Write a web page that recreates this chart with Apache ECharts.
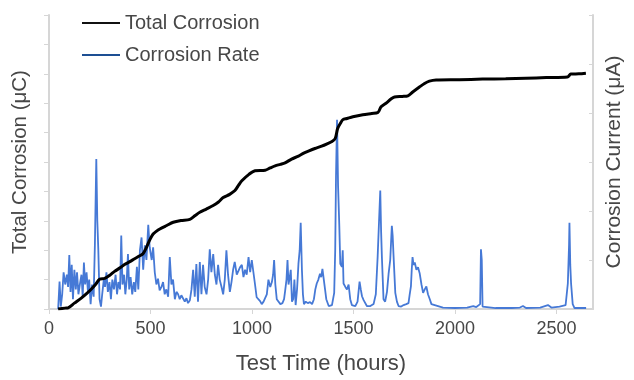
<!DOCTYPE html>
<html>
<head>
<meta charset="utf-8">
<script src="https://cdn.jsdelivr.net/npm/echarts@6/dist/echarts.min.js"></script>
<style>
  html, body { margin: 0; padding: 0; background: #fff; }
  #chart { width: 634px; height: 380px; }
</style>
</head>
<body>
<div id="chart"></div>
<script>
// x tick labels (hours)
const xTicks = [0, 500, 1000, 1500, 2000, 2500];

// total corrosion, left axis (arbitrary units, no labels shown) : [hours, value]
const totalCorrosion = [
  [45, 0], [79, 0.3], [94, 0.4], [125, 2], [159, 3.7], [185, 5.2], [208, 6.7], [230, 8.4],
  [249, 10.1], [274, 10.4], [300, 11.5], [323, 12.8], [350, 14], [372, 15.1], [398, 16.1],
  [422, 17.1], [445, 18], [463, 18.8], [481, 21.1], [497, 23.6], [513, 25.5], [530, 26.5],
  [546, 27.2], [580, 28.4], [612, 29.5], [650, 30.1], [694, 30.5], [720, 31.8], [743, 32.9],
  [775, 34], [809, 35.2], [835, 36.4], [858, 37.9], [890, 39], [916, 40.3], [935, 42.2],
  [950, 43.6], [985, 45.8], [1015, 47], [1065, 47.2], [1090, 48], [1114, 48.7], [1140, 49.2],
  [1163, 49.7], [1195, 51], [1229, 52], [1255, 53], [1278, 53.7], [1310, 54.6], [1343, 55.4],
  [1370, 56.2], [1394, 57], [1410, 58], [1422, 61.4], [1435, 63.1], [1448, 64.4], [1468, 64.8],
  [1497, 65.4], [1546, 66.1], [1590, 66.5], [1620, 66.8], [1636, 68.8], [1660, 70], [1686, 71.5],
  [1702, 72.1], [1740, 72.3], [1768, 72.5], [1792, 73.8], [1825, 75.5], [1850, 76.7], [1874, 77.5],
  [1907, 77.9], [2022, 78], [2136, 78.2], [2250, 78.3], [2349, 78.5], [2450, 78.7], [2554, 78.9],
  [2571, 79.9], [2610, 80], [2645, 80.2]
];

// corrosion rate, right axis (arbitrary units, no labels shown) : [hours, value]
const corrosionRate = [
  [45, 0], [52, 0.56], [58, 0.05], [65, 0.3], [72, 0.75], [80, 0.5], [88, 0.7], [94, 0.45],
  [100, 1.1], [106, 0.35], [112, 0.9], [118, 0.2], [125, 0.8], [132, 0.4], [138, 0.75], [145, 0.3],
  [152, 0.5], [160, 0.7], [166, 0.25], [172, 0.95], [178, 0.5], [185, 0.75], [192, 0.35], [198, 0.6],
  [205, 0.1], [212, 0.5], [220, 0.25], [226, 1.3], [233, 3.06], [238, 1.8], [243, 1.2], [249, 0.2],
  [256, 0.05], [262, 0.3], [270, 0.6], [276, 0.45], [283, 0.75], [290, 0.35], [298, 0.55], [305, 0.2],
  [312, 0.6], [320, 0.4], [328, 0.7], [335, 0.3], [342, 0.55], [350, 0.4], [356, 1.5], [362, 0.5],
  [370, 0.7], [376, 0.3], [383, 0.6], [389, 1.12], [395, 0.4], [402, 0.65], [410, 0.3], [418, 0.55],
  [425, 0.35], [433, 0.86], [440, 0.4], [448, 1.2], [456, 1.46], [464, 0.8], [472, 1.3], [480, 1.0],
  [489, 1.72], [496, 1.26], [506, 1.0], [513, 1.26], [521, 0.75], [529, 0.5], [537, 0.62], [545, 0.38],
  [554, 0.45], [562, 0.55], [570, 0.3], [578, 0.4], [587, 0.25], [595, 1.06], [603, 0.5], [611, 0.6],
  [620, 0.2], [628, 0.35], [636, 0.3], [644, 0.2], [652, 0.28], [661, 0.25], [669, 0.15], [677, 0.22],
  [685, 0.12], [694, 0.18], [702, 0.4], [710, 0.8], [718, 0.25], [726, 0.92], [734, 0.15], [743, 0.96],
  [751, 0.3], [759, 0.9], [767, 0.45], [776, 0.3], [784, 0.6], [792, 1.22], [800, 0.75], [809, 1.12],
  [817, 0.7], [825, 0.5], [833, 0.9], [841, 0.6], [850, 0.45], [858, 0.3], [866, 0.6], [874, 1.2],
  [882, 0.7], [891, 0.35], [899, 0.55], [907, 0.8], [915, 0.96], [925, 0.7], [933, 0.7], [941, 0.85],
  [950, 0.9], [958, 0.65], [966, 0.8], [974, 0.7], [983, 1.06], [991, 0.75], [999, 1.0], [1007, 0.75],
  [1015, 0.5], [1023, 0.24], [1032, 0.2], [1040, 0.16], [1048, 0.1], [1057, 0.15], [1065, 0.18],
  [1073, 0.3], [1081, 0.6], [1090, 0.45], [1098, 0.55], [1104, 0.7], [1109, 1.0], [1115, 0.5],
  [1122, 0.2], [1130, 0.18], [1140, 0.1], [1150, 0.12], [1158, 0.2], [1163, 0.36], [1170, 0.6],
  [1175, 1.0], [1180, 0.5], [1186, 0.65], [1191, 0.8], [1197, 0.15], [1203, 0.2], [1209, 0.6],
  [1215, 0.08], [1222, 0.4], [1229, 0.93], [1235, 1.2], [1240, 1.76], [1246, 0.8], [1251, 0.3],
  [1256, 0.1], [1265, 0.15], [1275, 0.12], [1286, 0.14], [1296, 0.1], [1305, 0.2], [1312, 0.4],
  [1319, 0.52], [1327, 0.6], [1335, 0.72], [1341, 0.65], [1347, 0.82], [1353, 0.86], [1360, 0.4],
  [1366, 0.2], [1378, 0.06], [1394, 0.08], [1405, 0.33], [1410, 1.2], [1414, 2.72], [1419, 3.86],
  [1424, 2.52], [1430, 1.72], [1435, 0.92], [1443, 0.86], [1447, 1.2], [1451, 0.52], [1460, 0.45],
  [1468, 0.4], [1476, 0.5], [1484, 0.2], [1492, 0.08], [1509, 0.06], [1520, 0.15], [1530, 0.56],
  [1536, 0.4], [1542, 0.26], [1550, 0.18], [1558, 0.22], [1566, 0.06], [1583, 0.06], [1599, 0.1],
  [1610, 0.3], [1619, 1.06], [1626, 1.8], [1632, 2.42], [1636, 1.6], [1640, 1.06], [1648, 0.2],
  [1656, 0.15], [1665, 0.35], [1673, 0.72], [1681, 1.0], [1689, 1.7], [1693, 1.5], [1697, 1.12],
  [1706, 0.33], [1714, 0.15], [1722, 0.06], [1735, 0.05], [1747, 0.08], [1760, 0.1], [1771, 0.12],
  [1777, 0.3], [1783, 0.46], [1787, 0.8], [1791, 1.06], [1796, 0.9], [1802, 0.95], [1810, 0.8],
  [1818, 0.85], [1826, 0.73], [1835, 0.5], [1843, 0.33], [1851, 0.4], [1859, 0.46], [1867, 0.3],
  [1876, 0.2], [1884, 0.1], [1892, 0.07], [1941, 0.03], [2000, 0.02], [2060, 0.03], [2090, 0.06],
  [2097, 0.1], [2105, 0.04], [2113, 0.02], [2124, 0.1], [2128, 1.22], [2132, 1.0], [2136, 0.05],
  [2141, 0.02], [2200, 0.02], [2280, 0.02], [2320, 0.03], [2335, 0.06], [2350, 0.02], [2420, 0.03],
  [2458, 0.08], [2475, 0.03], [2515, 0.05], [2545, 0.08], [2556, 0.52], [2562, 1.3], [2564, 1.76],
  [2568, 0.9], [2572, 0.52], [2580, 0.1], [2589, 0.02], [2646, 0.02]
];

const textColor = "#474747";
const axisGrey = "#d6d6d6";
const fontFamily = "'Liberation Sans', Arial, sans-serif";

const chart = echarts.init(document.getElementById("chart"));

chart.setOption({
  animation: false,
  backgroundColor: "#fff",
  textStyle: { fontFamily: fontFamily },
  grid: { left: 49, right: 41, top: 15, bottom: 67, containLabel: false },
  legend: {
    orient: "vertical",
    left: 77,
    top: 8,
    itemWidth: 38,
    itemHeight: 2,
    itemGap: 12,
    icon: "rect",
    textStyle: { fontSize: 20, color: textColor, fontFamily: fontFamily },
    data: [
      { name: "Total Corrosion", itemStyle: { color: "#111" } },
      { name: "Corrosion Rate", itemStyle: { color: "#1d4f93" } },
    ],
  },
  xAxis: {
    type: "value",
    min: 0,
    max: 2680,
    interval: 500,
    name: "Test Time (hours)",
    nameLocation: "middle",
    nameGap: 44,
    nameTextStyle: { fontSize: 22, color: textColor },
    axisLine: { show: true, lineStyle: { color: axisGrey, width: 2 } },
    axisTick: { show: true, length: 5, customValues: xTicks, lineStyle: { color: axisGrey, width: 1 } },
    axisLabel: {
      customValues: xTicks,
      fontSize: 18,
      color: textColor,
      margin: 11,
      formatter: (v) => String(v),
    },
    splitLine: { show: false },
  },
  yAxis: [
    {
      type: "value",
      min: 0,
      max: 100,
      interval: 10,
      position: "left",
      name: "Total Corrosion (μC)",
      nameLocation: "middle",
      nameRotate: 90,
      nameGap: 18,
      nameTextStyle: { fontSize: 20.5, color: textColor },
      axisLine: { show: true, lineStyle: { color: axisGrey, width: 2 } },
      axisTick: { show: true, length: 5, lineStyle: { color: axisGrey } },
      axisLabel: { show: false },
      splitLine: { show: false },
    },
    {
      type: "value",
      min: 0,
      max: 6,
      interval: 1,
      position: "right",
      name: "Corrosion Current (μA)",
      nameLocation: "middle",
      nameRotate: 90,
      nameGap: 11,
      nameTextStyle: { fontSize: 21, color: textColor },
      axisLine: { show: true, lineStyle: { color: axisGrey, width: 2 } },
      axisTick: { show: true, inside: true, length: 4, lineStyle: { color: axisGrey } },
      axisLabel: { show: false },
      splitLine: { show: false },
    },
  ],
  series: [
    {
      name: "Corrosion Rate",
      type: "line",
      yAxisIndex: 1,
      data: corrosionRate,
      showSymbol: false,
      symbol: "none",
      lineStyle: { color: "#4679d6", width: 1.8 },
      itemStyle: { color: "#1d4f93" },
      z: 2,
    },
    {
      name: "Total Corrosion",
      type: "line",
      yAxisIndex: 0,
      data: totalCorrosion,
      showSymbol: false,
      symbol: "none",
      smooth: 0.3,
      lineStyle: { color: "#000", width: 3 },
      itemStyle: { color: "#111" },
      z: 3,
    },
  ],
});
</script>
</body>
</html>
